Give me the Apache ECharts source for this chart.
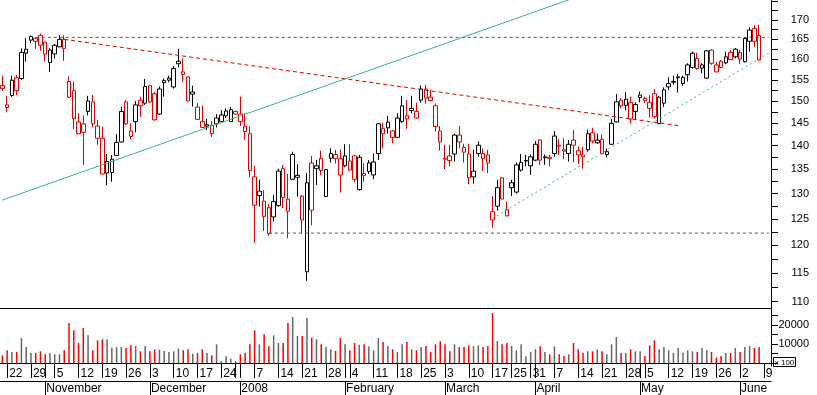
<!DOCTYPE html>
<html><head><meta charset="utf-8">
<script src="https://cdn.jsdelivr.net/npm/echarts@6/dist/echarts.min.js"></script>
<style>html,body{margin:0;padding:0;background:#fff}#c{width:817px;height:395px}</style>
</head><body><div id="c"></div>
<script>
// ---- calendar ----
const startDate = '2007-10-19';
const endDate = '2008-06-06';
const holidays = ['2007-12-25','2007-12-26','2008-01-01','2008-03-21','2008-03-24','2008-05-01'];
const extraDates = ['2008-06-09','2008-06-10'];
const hiddenDayLabels = ['2007-12-31'];
const monthNames = ['2008','February','March','April','May','June','July','August','September','October','November','December'];

// ---- prices ----
const opens = [153.6,148.5,151.3,155.5,155.3,161.5,164.8,164.5,166.0,164.3,
159.2,161.3,163.1,165.0,154.6,152.4,142.6,144.8,147.6,149.8,
144.3,141.6,134.2,134.3,137.9,140.8,149.8,142.0,145.3,150.2,
149.5,153.6,151.7,147.0,154.8,154.9,153.3,158.9,156.3,155.7,
151.6,148.6,145.3,144.6,144.5,144.8,145.3,146.6,145.3,147.0,
147.0,144.3,142.6,133.4,129.6,128.5,127.2,125.4,127.6,135.1,
126.5,138.1,133.3,129.5,115.2,136.3,135.1,137.3,129.4,137.3,
137.2,137.2,135.7,136.7,137.8,130.8,133.7,136.3,133.8,138.3,
142.6,145.2,143.2,141.8,145.3,145.9,148.3,146.1,150.2,152.8,
150.9,148.9,143.2,137.3,137.8,138.2,142.3,138.6,138.2,133.4,
138.3,137.2,138.0,126.4,127.5,133.2,125.6,131.2,130.3,134.8,
136.8,135.7,136.9,141.2,137.6,137.5,138.3,140.1,139.1,138.3,
141.2,138.9,138.0,139.1,142.8,140.6,141.4,138.1,140.3,145.2,
150.2,149.0,149.7,147.6,151.4,150.1,148.3,151.7,144.9,149.5,
153.3,154.6,155.7,154.1,156.2,158.0,160.2,158.6,155.4,162.3,
156.9,159.5,159.1,161.7,160.6,161.7,159.4,164.5,167.8,166.0];
const highs = [156.0,151.2,156.0,156.2,162.7,165.3,166.0,165.5,166.5,164.4,
162.7,163.8,166.1,166.0,155.8,154.6,147.2,146.7,151.2,151.4,
145.7,144.2,138.2,138.0,142.5,148.7,150.2,144.9,150.0,151.0,
155.2,153.8,152.1,153.4,155.3,156.0,158.3,162.6,160.2,155.8,
153.6,149.5,148.9,145.9,145.4,147.0,147.9,148.3,148.6,147.8,
151.0,147.2,144.3,135.7,132.8,130.7,127.9,129.7,135.1,135.9,
134.0,138.7,136.0,129.7,134.2,137.8,136.9,138.9,135.0,139.4,
139.1,139.2,140.3,140.3,138.0,138.0,136.2,136.9,138.3,144.9,
145.0,146.6,143.4,147.2,151.2,150.2,151.2,149.6,153.6,153.8,
152.6,149.4,144.3,140.2,140.2,142.6,144.3,140.4,140.4,139.1,
140.9,139.4,139.1,129.5,132.8,133.3,128.4,132.8,136.4,138.2,
138.0,138.1,141.0,141.4,138.1,138.0,143.2,141.4,141.6,141.2,
143.4,139.8,139.8,143.5,143.9,142.6,142.4,139.4,145.9,151.6,
150.7,152.1,151.0,149.7,152.2,151.0,151.4,152.8,151.2,153.2,
155.6,156.0,156.4,156.0,159.0,161.9,161.6,159.0,162.3,162.5,
159.4,159.8,161.9,162.3,162.8,162.3,165.5,168.1,168.7,168.7];
const lows = [152.4,147.4,151.0,151.4,155.0,159.4,164.0,162.6,162.1,159.4,
156.9,160.2,163.0,159.6,150.7,143.6,142.5,135.9,146.7,144.0,
140.2,133.9,131.7,132.4,137.8,140.7,144.5,141.4,142.9,146.4,
149.1,149.5,145.5,146.8,151.0,154.4,152.9,158.0,154.4,149.9,
148.7,145.7,143.9,143.4,141.9,144.0,145.2,146.1,145.3,146.9,
144.3,141.3,133.3,120.5,127.4,122.7,121.8,124.5,127.4,127.1,
121.3,132.8,129.4,122.2,113.6,123.8,131.7,133.8,129.3,136.4,
136.2,130.2,135.4,134.7,132.3,130.6,132.4,134.0,132.9,136.9,
139.4,142.6,140.5,141.7,145.0,143.7,147.2,145.9,149.6,149.4,
149.9,143.1,138.9,135.0,135.6,136.6,139.4,136.4,131.9,132.0,
137.6,134.6,134.2,123.3,126.6,128.8,125.5,129.5,130.0,134.5,
135.6,133.8,136.7,135.9,135.9,135.6,137.6,138.0,137.1,136.6,
136.4,136.1,135.1,138.7,140.5,140.4,138.1,137.5,140.2,145.1,
148.3,147.9,144.9,145.7,149.7,149.5,146.2,146.0,144.7,148.6,
152.6,153.8,152.0,153.6,154.6,157.7,157.4,156.6,155.2,158.6,
156.8,157.8,158.8,159.8,160.2,158.8,159.2,161.9,163.1,159.6];
const closes = [152.9,149.1,154.9,152.4,161.7,162.5,165.7,165.3,163.5,161.3,
162.3,163.5,165.0,162.6,150.9,146.0,145.2,142.9,150.0,144.8,
141.6,134.0,136.6,137.1,140.7,147.6,144.8,143.2,149.1,148.9,
153.4,149.8,145.7,152.8,154.3,155.4,157.7,159.5,156.9,150.0,
152.1,145.8,144.0,144.3,142.6,146.1,146.8,147.7,148.0,147.6,
145.3,143.1,134.7,127.7,130.5,125.5,122.2,128.4,134.6,129.2,
128.9,132.9,133.7,124.8,132.2,126.7,135.7,134.7,134.9,138.3,
138.1,133.8,137.8,134.8,132.9,137.5,134.1,134.5,136.5,144.8,
143.7,143.9,141.8,146.1,148.9,146.6,147.8,147.6,152.8,150.7,
150.1,144.2,140.8,137.1,136.8,142.3,140.8,139.6,133.2,134.6,
140.1,138.3,136.3,124.8,131.2,128.9,126.8,132.2,135.9,136.4,
136.7,137.6,140.3,136.9,137.4,137.2,142.1,139.9,138.8,140.3,
140.1,138.0,137.6,142.6,141.0,141.2,138.3,138.7,144.9,149.8,
148.9,150.4,145.9,149.2,150.8,150.6,149.7,146.4,150.9,152.6,
154.1,154.4,155.5,155.6,158.6,161.5,157.7,157.8,162.1,159.0,
158.6,158.0,160.6,159.9,162.5,160.0,165.2,167.4,164.5,159.8];
const volumes = [4035,6665,5790,5790,13150,8420,5260,5260,6140,4560,
5260,4560,4560,6665,21050,17190,10520,18420,14560,6665,
11930,12450,12450,8070,8420,8420,7890,9300,8950,6140,
8950,6140,7190,7020,6315,5790,6140,7540,6665,7190,
4910,5260,7190,5260,4035,9820,1050,3510,2280,880,
4560,5440,9820,17190,9820,15080,8770,14560,10520,10520,
21050,24200,14200,14200,23680,13330,12450,9820,8420,7190,
6315,13150,9820,6665,10520,9650,9820,8770,6665,13150,
11050,8950,7190,5790,9820,11050,7190,6665,8420,8950,
5790,9820,11400,9820,6140,9820,8420,8420,9300,8950,
9300,8420,8950,26300,11580,9820,10520,8950,6665,9820,
3510,5790,7190,8770,5790,4560,8770,4560,3680,4560,
10520,7190,5440,6140,6140,7190,6140,4560,9820,13680,
5260,5260,7190,6140,6140,3680,9300,11930,7190,8420,
6665,5260,7890,5440,6665,6140,5790,7890,6665,5790,
2810,3680,5260,5260,7890,5790,8420,8950,7890,8420];

// ---- axis ticks ----
const priceTicks = [110,112.5,115,117.5,120,122.5,125,127.5,130,132.5,135,137.5,140,142.5,145,147.5,150,152.5,155,157.5,160,162.5,165,167.5,170,172.5,175];
const priceLabels = [110,115,120,125,130,135,140,145,150,155,160,165,170];
const volTicks = [0,5000,10000,15000,20000,25000];
const volLabels = [10000,20000];

// ---- drawn lines: [date, price] ----
const upperLevel = [['2007-10-30',165.5],['2008-06-10',165.5]];
const lowerLevel = [['2008-01-10',122.3],['2008-06-10',122.3]];
const downTrend = [['2007-11-07',165.0],['2008-05-14',144.4]];
const longUpTrend = [['2007-10-19',128.7],['2008-04-14',176.3]];
const shortUpTrend = [['2008-03-17',125.1],['2008-06-10',161.5]];

function tradingDays(s, e, hol) {
  const out = [];
  const d = new Date(s + 'T00:00:00Z');
  const end = new Date(e + 'T00:00:00Z');
  while (d <= end) {
    const t = d.toISOString().slice(0, 10);
    const w = d.getUTCDay();
    if (w !== 0 && w !== 6 && hol.indexOf(t) < 0) out.push(t);
    d.setUTCDate(d.getUTCDate() + 1);
  }
  return out;
}
const dates = tradingDays(startDate, endDate, holidays);
const cats = dates.concat(extraDates);
const dt = s => new Date(s + 'T00:00:00Z');
const weekStart = cats.map((c, i) => {
  if (i === 0) return false;
  const a = dt(cats[i - 1]), b = dt(c);
  return b.getUTCDay() < a.getUTCDay() || (b - a) >= 7 * 864e5;
});
const monthStart = cats.map((c, i) => i > 0 && c.slice(5, 7) !== cats[i - 1].slice(5, 7));

const RED = '#e00000', BLACK = '#000000';
const candleData = dates.map((d, i) => {
  const up = i === 0 ? false : closes[i] >= closes[i - 1];
  const col = up ? BLACK : RED;
  return { value: [opens[i], closes[i], lows[i], highs[i]],
    itemStyle: { color: '#ffffff', color0: col, borderColor: col, borderColor0: col } };
});
const volData = dates.map((d, i) => {
  const up = i === 0 ? false : closes[i] >= closes[i - 1];
  return { value: volumes[i], itemStyle: { color: up ? '#666666' : '#ff0000' } };
});

const FONT = '"Liberation Sans", Arial, sans-serif';
const lineSeries = (data, color, type) => ({
  type: 'line', xAxisIndex: 0, yAxisIndex: 0, data: data, symbol: 'none', silent: true,
  lineStyle: { color: color, width: 1, type: type }, z: 3, clip: true
});

const chart = echarts.init(document.getElementById('c'), null, { renderer: 'canvas' });
chart.setOption({
  animation: false,
  backgroundColor: '#ffffff',
  grid: [
    { left: 0, top: 0, width: 771, height: 308 },
    { left: 0, top: 308, width: 771, height: 58 }
  ],
  xAxis: [
    { type: 'category', gridIndex: 0, data: cats, boundaryGap: true,
      axisLine: { show: true, lineStyle: { color: '#000', width: 1 } },
      axisTick: { show: false }, axisLabel: { show: false }, splitLine: { show: false } },
    { type: 'category', gridIndex: 1, data: cats, boundaryGap: true, position: 'bottom',
      axisLine: { show: true, lineStyle: { color: '#000', width: 1 } },
      axisTick: { show: true, alignWithLabel: true, length: 15, lineStyle: { color: '#000' },
        interval: i => weekStart[i] || monthStart[i] },
      axisLabel: { show: true, interval: i => weekStart[i] && hiddenDayLabels.indexOf(cats[i]) < 0,
        formatter: v => String(parseInt(v.slice(8), 10)), align: 'left', padding: [0, 0, 0, 2],
        margin: 2, fontSize: 12, fontFamily: FONT, color: '#000' },
      splitLine: { show: false } },
    { type: 'category', gridIndex: 1, data: cats, boundaryGap: true, position: 'bottom', offset: 15,
      axisLine: { show: true, lineStyle: { color: '#000', width: 1 } },
      axisTick: { show: true, alignWithLabel: true, length: 14, lineStyle: { color: '#000' },
        interval: i => monthStart[i] },
      axisLabel: { show: true, interval: i => monthStart[i],
        formatter: v => monthNames[parseInt(v.slice(5, 7), 10) - 1], align: 'left', padding: [0, 0, 0, 1],
        margin: 2, fontSize: 12, fontFamily: FONT, color: '#000' },
      splitLine: { show: false } }
  ],
  yAxis: [
    { type: 'log', logBase: 10, gridIndex: 0, position: 'right', min: 108.93, max: 175.34,
      axisLine: { show: true, lineStyle: { color: '#000', width: 1 } },
      axisTick: { show: true, customValues: priceTicks, length: 7, lineStyle: { color: '#000' } },
      axisLabel: { show: true, customValues: priceLabels, formatter: v => String(Math.round(v)),
        align: 'right', margin: 38, fontSize: 11, fontFamily: FONT, color: '#000' },
      splitLine: { show: false } },
    { type: 'value', gridIndex: 1, position: 'right', min: -1579, max: 28947,
      axisLine: { show: true, lineStyle: { color: '#000', width: 1 } },
      axisTick: { show: true, customValues: volTicks, length: 7, lineStyle: { color: '#000' } },
      axisLabel: { show: true, customValues: volLabels, formatter: v => String(v),
        align: 'right', margin: 38, fontSize: 11, fontFamily: FONT, color: '#000' },
      splitLine: { show: false } }
  ],
  series: [
    { type: 'candlestick', xAxisIndex: 0, yAxisIndex: 0, data: candleData, barWidth: 4,
      itemStyle: { borderWidth: 1 }, silent: true, z: 2 },
    lineSeries(upperLevel, '#555555', [3, 3]),
    lineSeries(lowerLevel, '#555555', [3, 3]),
    lineSeries(downTrend, '#e00000', [4, 3]),
    lineSeries(longUpTrend, '#3cb371', 'solid'),
    lineSeries(shortUpTrend, '#3cb371', [2, 3]),
    { type: 'bar', xAxisIndex: 1, yAxisIndex: 1, data: volData, barWidth: 1.5, silent: true }
  ],
  graphic: [
    { type: 'rect', shape: { x: 773.5, y: 357.5, width: 22, height: 9 },
      style: { fill: '#fff', stroke: '#000', lineWidth: 1 } },
    { type: 'text', x: 784.5, y: 362.5,
      style: { text: 'x 100', font: '8px "Liberation Sans", Arial, sans-serif', fill: '#000',
        align: 'center', verticalAlign: 'middle' } }
  ]
});
</script>
</body></html>
